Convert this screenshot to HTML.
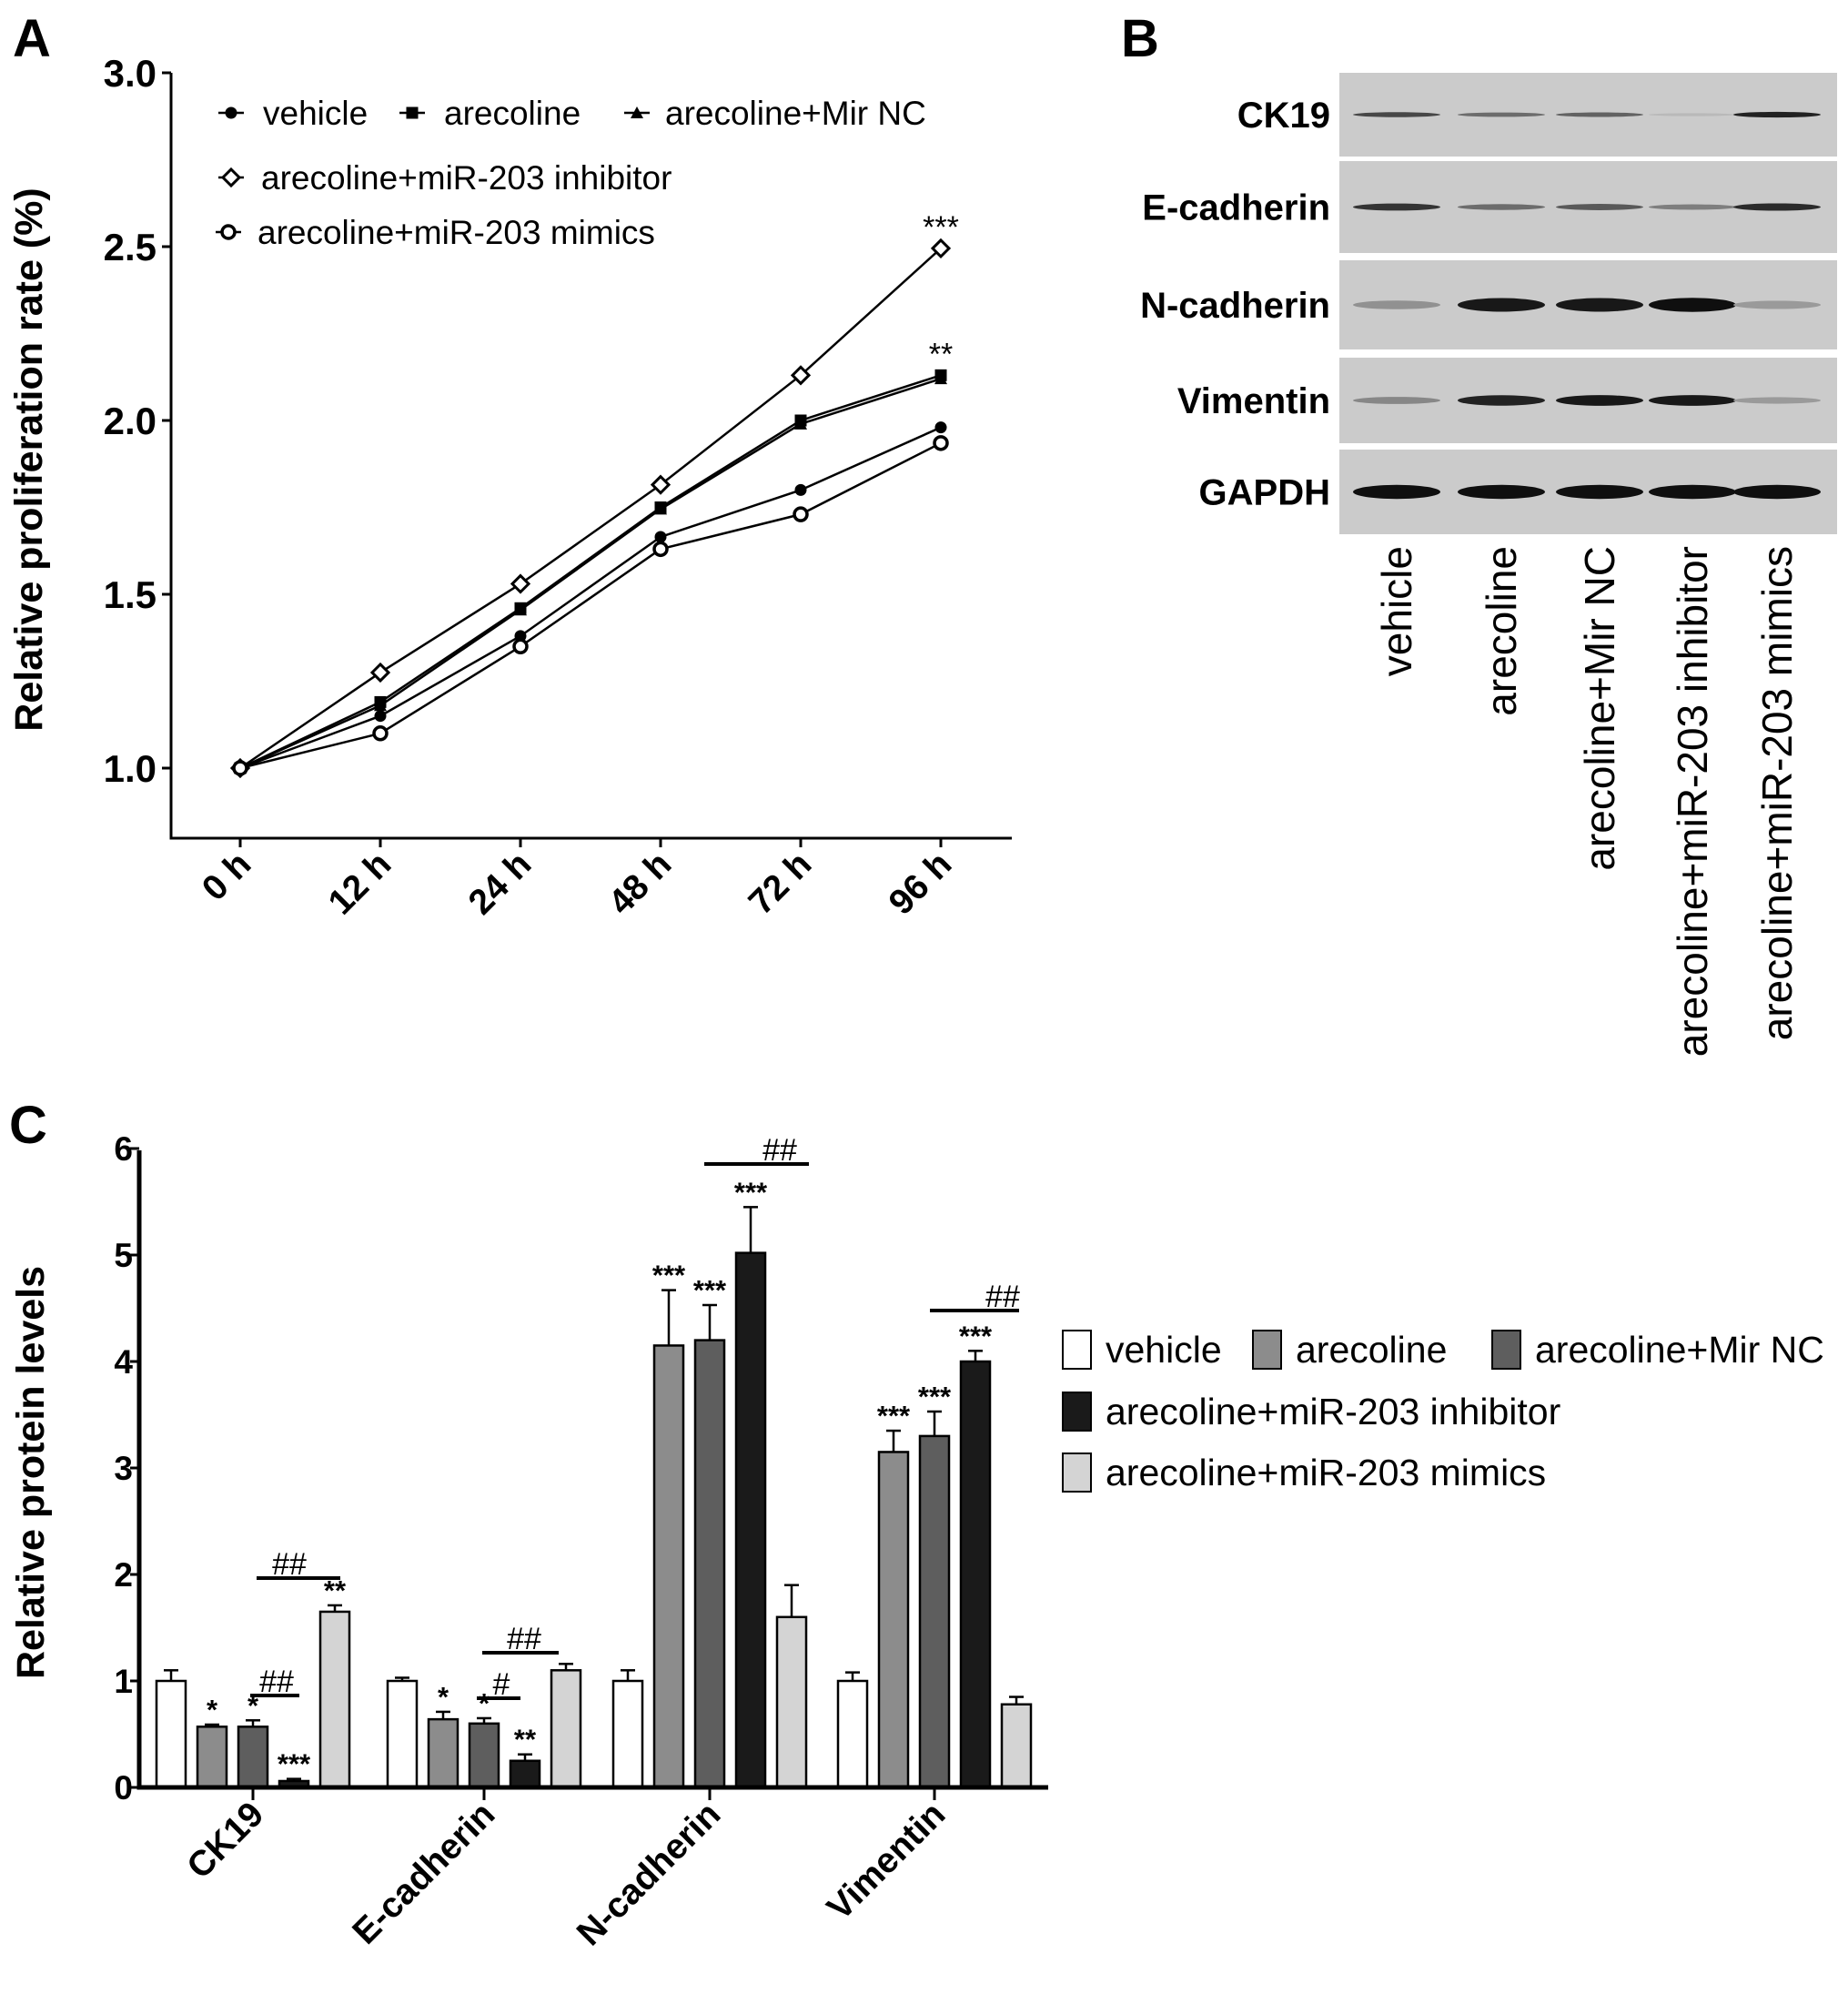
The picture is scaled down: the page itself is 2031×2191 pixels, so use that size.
<!DOCTYPE html>
<html><head><meta charset="utf-8"><style>
html,body{margin:0;padding:0;background:#fff}
svg{display:block;font-family:"Liberation Sans",Arial,sans-serif}
</style></head><body>
<svg id="fig" width="2031" height="2191" viewBox="0 0 2031 2191" xmlns="http://www.w3.org/2000/svg">
<g id="pa"></g>
<g id="pb"></g>
<g id="pc"></g>
</svg>
<script>
// ---- Panel A data ----
const timeLabels = ["0 h","12 h","24 h","48 h","72 h","96 h"];
const aTicks = [1.0,1.5,2.0,2.5,3.0];
const vehicleA = [1.0,1.15,1.38,1.665,1.80,1.98];
const arecolineA = [1.0,1.19,1.46,1.75,2.0,2.13];
const mirNCA = [1.0,1.18,1.455,1.745,1.99,2.12];
const inhibitorA = [1.0,1.275,1.53,1.815,2.13,2.495];
const mimicsA = [1.0,1.10,1.35,1.63,1.73,1.935];
// ---- Panel C data ----
const proteins = ["CK19","E-cadherin","N-cadherin","Vimentin"];
const cTicks = [0,1,2,3,4,5,6];
const vehicleC = [1.0,1.0,1.0,1.0];
const vehicleErr = [0.1,0.03,0.1,0.08];
const arecolineC = [0.57,0.64,4.15,3.15];
const arecolineErr = [0.02,0.07,0.52,0.2];
const mirNCC = [0.57,0.6,4.2,3.3];
const mirNCErr = [0.06,0.05,0.33,0.23];
const inhibitorC = [0.06,0.25,5.02,4.0];
const inhibitorErr = [0.02,0.06,0.43,0.1];
const mimicsC = [1.65,1.1,1.6,0.78];
const mimicsErr = [0.06,0.06,0.3,0.07];
const stars = [["","*","*","***","**"],["","*","*","**",""],["","***","***","***",""],["","***","***","***",""]];

const NS="http://www.w3.org/2000/svg";
function mk(parent,tag,attrs,text){const e=document.createElementNS(NS,tag);for(const k in attrs)e.setAttribute(k,attrs[k]);if(text!==undefined)e.textContent=text;parent.appendChild(e);return e;}

// ===== Panel A =====
const pa=document.getElementById('pa');
const ax=v=>264+v*154;
const ay=v=>844-(v-1)*382;
let t=mk(pa,'text',{x:14,y:62,'font-size':58,'font-weight':'bold'},'A');


let l=mk(pa,'path',{d:'M188 80 V921 H1112',fill:'none',stroke:'#000','stroke-width':3});


aTicks.forEach(v=>{
  mk(pa,'line',{x1:178,x2:188,y1:ay(v),y2:ay(v),stroke:'#000','stroke-width':3});
  const tt=mk(pa,'text',{x:172,y:ay(v)+15,'font-size':42,'font-weight':'bold','text-anchor':'end'},v.toFixed(1));
  
  
});
timeLabels.forEach((s,i)=>{
  mk(pa,'line',{x1:ax(i),x2:ax(i),y1:921,y2:931,stroke:'#000','stroke-width':3});
  const tt=mk(pa,'text',{x:ax(i)+14,y:952,'font-size':39,'font-weight':'bold','text-anchor':'end',transform:`rotate(-45 ${ax(i)+14} 952)`},s);
  
  
});
t=mk(pa,'text',{x:46,y:505,'font-size':43,'font-weight':'bold','text-anchor':'middle',transform:'rotate(-90 46 505)'},'Relative proliferation rate (%)');


function marker(g,type,x,y){
  if(type==='circle')mk(g,'circle',{cx:x,cy:y,r:6.5,fill:'#000'});
  else if(type==='square')mk(g,'rect',{x:x-6.5,y:y-6.5,width:13,height:13,fill:'#000'});
  else if(type==='tri')mk(g,'path',{d:`M${x} ${y-7}L${x+7} ${y+6}L${x-7} ${y+6}Z`,fill:'#000'});
  else if(type==='diamond')mk(g,'path',{d:`M${x} ${y-9}L${x+9} ${y}L${x} ${y+9}L${x-9} ${y}Z`,fill:'#fff',stroke:'#000','stroke-width':3});
  else mk(g,'circle',{cx:x,cy:y,r:7,fill:'#fff',stroke:'#000','stroke-width':3.5});
}
const seriesA=[[vehicleA,'circle','vehicle'],[arecolineA,'square','arecoline'],[mirNCA,'tri','arecoline+Mir NC'],[inhibitorA,'diamond','arecoline+miR-203 inhibitor'],[mimicsA,'ocircle','arecoline+miR-203 mimics']];
seriesA.forEach(([d,m,name])=>{
  const g=mk(pa,'g',{});
  
  
  mk(g,'polyline',{points:d.map((v,i)=>ax(i)+','+ay(v)).join(' '),fill:'none',stroke:'#000','stroke-width':2.5});
  d.forEach((v,i)=>marker(g,m,ax(i),ay(v)));
});
t=mk(pa,'text',{x:ax(5),y:ay(inhibitorA[5])-12,'font-size':34,'text-anchor':'middle'},'***');


t=mk(pa,'text',{x:ax(5),y:ay(arecolineA[5])-12,'font-size':34,'text-anchor':'middle'},'**');


const legA=[[254,124,'circle','vehicle',289],[453,124,'square','arecoline',488],[700,124,'tri','arecoline+Mir NC',731],[254,195,'diamond','arecoline+miR-203 inhibitor',287],[251,255,'ocircle','arecoline+miR-203 mimics',283]];
legA.forEach(([x,y,m,s,tx])=>{
  const g=mk(pa,'g',{});
  
  
  mk(g,'line',{x1:x-14,x2:x+14,y1:y,y2:y,stroke:'#000','stroke-width':2.5});
  marker(g,m,x,y);
  mk(g,'text',{x:tx,y:y+13,'font-size':37},s);
});

// ===== Panel B =====
const pb=document.getElementById('pb');
t=mk(pb,'text',{x:1232,y:62,'font-size':58,'font-weight':'bold'},'B');


const blotRows=[["CK19",80,172,[0.7,0.5,0.55,0.08,0.9],6],["E-cadherin",177,278,[0.8,0.5,0.6,0.4,0.85],8],["N-cadherin",286,384,[0.3,0.95,0.95,1,0.25],14],["Vimentin",393,487,[0.35,0.9,0.95,0.95,0.25],11],["GAPDH",494,587,[1,1,1,1,1],14]];
const lanes=[1535,1650,1758,1860,1953];
blotRows.forEach(([name,y0,y1,ints,h])=>{
  const g=mk(pb,'g',{});
  
  
  mk(g,'rect',{x:1472,y:y0,width:547,height:y1-y0,fill:'#cbcbcb'});
  const cy=(y0+y1)/2;
  ints.forEach((v,i)=>{
    const c=Math.round(200-v*185);
    mk(g,'ellipse',{cx:lanes[i],cy:cy,rx:48,ry:h/2*(0.5+v*0.6),fill:`rgb(${c},${c},${c})`});
  });
  mk(g,'text',{x:1462,y:cy+14,'font-size':40,'font-weight':'bold','text-anchor':'end'},name);
});
["vehicle","arecoline","arecoline+Mir NC","arecoline+miR-203 inhibitor","arecoline+miR-203 mimics"].forEach((s,i)=>{
  const x=lanes[i]+16,y=600;
  const tt=mk(pb,'text',{x:x,y:y,'font-size':46,'text-anchor':'end',transform:`rotate(-90 ${x} ${y})`},s);
  
  
});

// ===== Panel C =====
const pc=document.getElementById('pc');
const cy0=1964, cu=117;
const cyv=v=>cy0-v*cu;
const groupX=[278,532,780,1027];
const barOff=[-90,-45,0,45,90];
const barW=32;
const fills=['#ffffff','#8c8c8c','#5e5e5e','#1a1a1a','#d4d4d4'];
const names=['vehicle','arecoline','arecoline+Mir NC','arecoline+miR-203 inhibitor','arecoline+miR-203 mimics'];
const vals=[vehicleC,arecolineC,mirNCC,inhibitorC,mimicsC];
const errs=[vehicleErr,arecolineErr,mirNCErr,inhibitorErr,mimicsErr];
t=mk(pc,'text',{x:10,y:1256,'font-size':58,'font-weight':'bold'},'C');


t=mk(pc,'text',{x:48,y:1618,'font-size':43,'font-weight':'bold','text-anchor':'middle',transform:'rotate(-90 48 1618)'},'Relative protein levels');


proteins.forEach((p,gi)=>{
  for(let s=0;s<5;s++){
    const v=vals[s][gi],e=errs[s][gi],x=groupX[gi]+barOff[s];
    const r=mk(pc,'rect',{x:x-barW/2,y:cyv(v),width:barW,height:v*cu,fill:fills[s],stroke:'#000','stroke-width':2.5});
    
    
    mk(pc,'line',{x1:x,x2:x,y1:cyv(v),y2:cyv(v+e),stroke:'#000','stroke-width':2.5});
    mk(pc,'line',{x1:x-8,x2:x+8,y1:cyv(v+e),y2:cyv(v+e),stroke:'#000','stroke-width':2.5});
    if(stars[gi][s]) mk(pc,'text',{x:x,y:cyv(v+e)-6,'font-size':31,'font-weight':'bold','text-anchor':'middle'},stars[gi][s]);
  }
  mk(pc,'line',{x1:groupX[gi],x2:groupX[gi],y1:cy0,y2:cy0+14,stroke:'#000','stroke-width':3});
  const lx=groupX[gi]+14,ly=1996;
  const tt=mk(pc,'text',{x:lx,y:ly,'font-size':39,'font-weight':'bold','text-anchor':'end',transform:`rotate(-45 ${lx} ${ly})`},p);
  
  
});
l=mk(pc,'path',{d:'M153 1264 V1964 H1152',fill:'none',stroke:'#000','stroke-width':5});


cTicks.forEach(v=>{
  mk(pc,'line',{x1:143,x2:153,y1:cyv(v),y2:cyv(v),stroke:'#000','stroke-width':3});
  const tt=mk(pc,'text',{x:146,y:cyv(v)+13,'font-size':37,'font-weight':'bold','text-anchor':'end'},String(v));
  
  
});
// bracket annotations [x1,x2,y,label,labelX]
[[282,374,1734,'##',318],[275,329,1863,'##',304],[530,614,1816,'##',576],[524,572,1866,'#',551],[774,889,1279,'##',857],[1022,1120,1440,'##',1102]].forEach(([x1,x2,y,s,tx])=>{
  const g=mk(pc,'g',{});
  
  
  mk(g,'line',{x1:x1,x2:x2,y1:y,y2:y,stroke:'#000','stroke-width':4});
  mk(g,'text',{x:tx,y:y-4,'font-size':34,'text-anchor':'middle'},s);
});
const legC=[[1168,1483,0],[1377,1483,1],[1640,1483,2],[1168,1551,3],[1168,1618,4]];
legC.forEach(([x,y,s])=>{
  const g=mk(pc,'g',{});
  
  
  mk(g,'rect',{x:x,y:y-21,width:31,height:42,fill:fills[s],stroke:'#000','stroke-width':2});
  mk(g,'text',{x:x+47,y:y+14,'font-size':41},names[s]);
});
</script>
</body></html>
